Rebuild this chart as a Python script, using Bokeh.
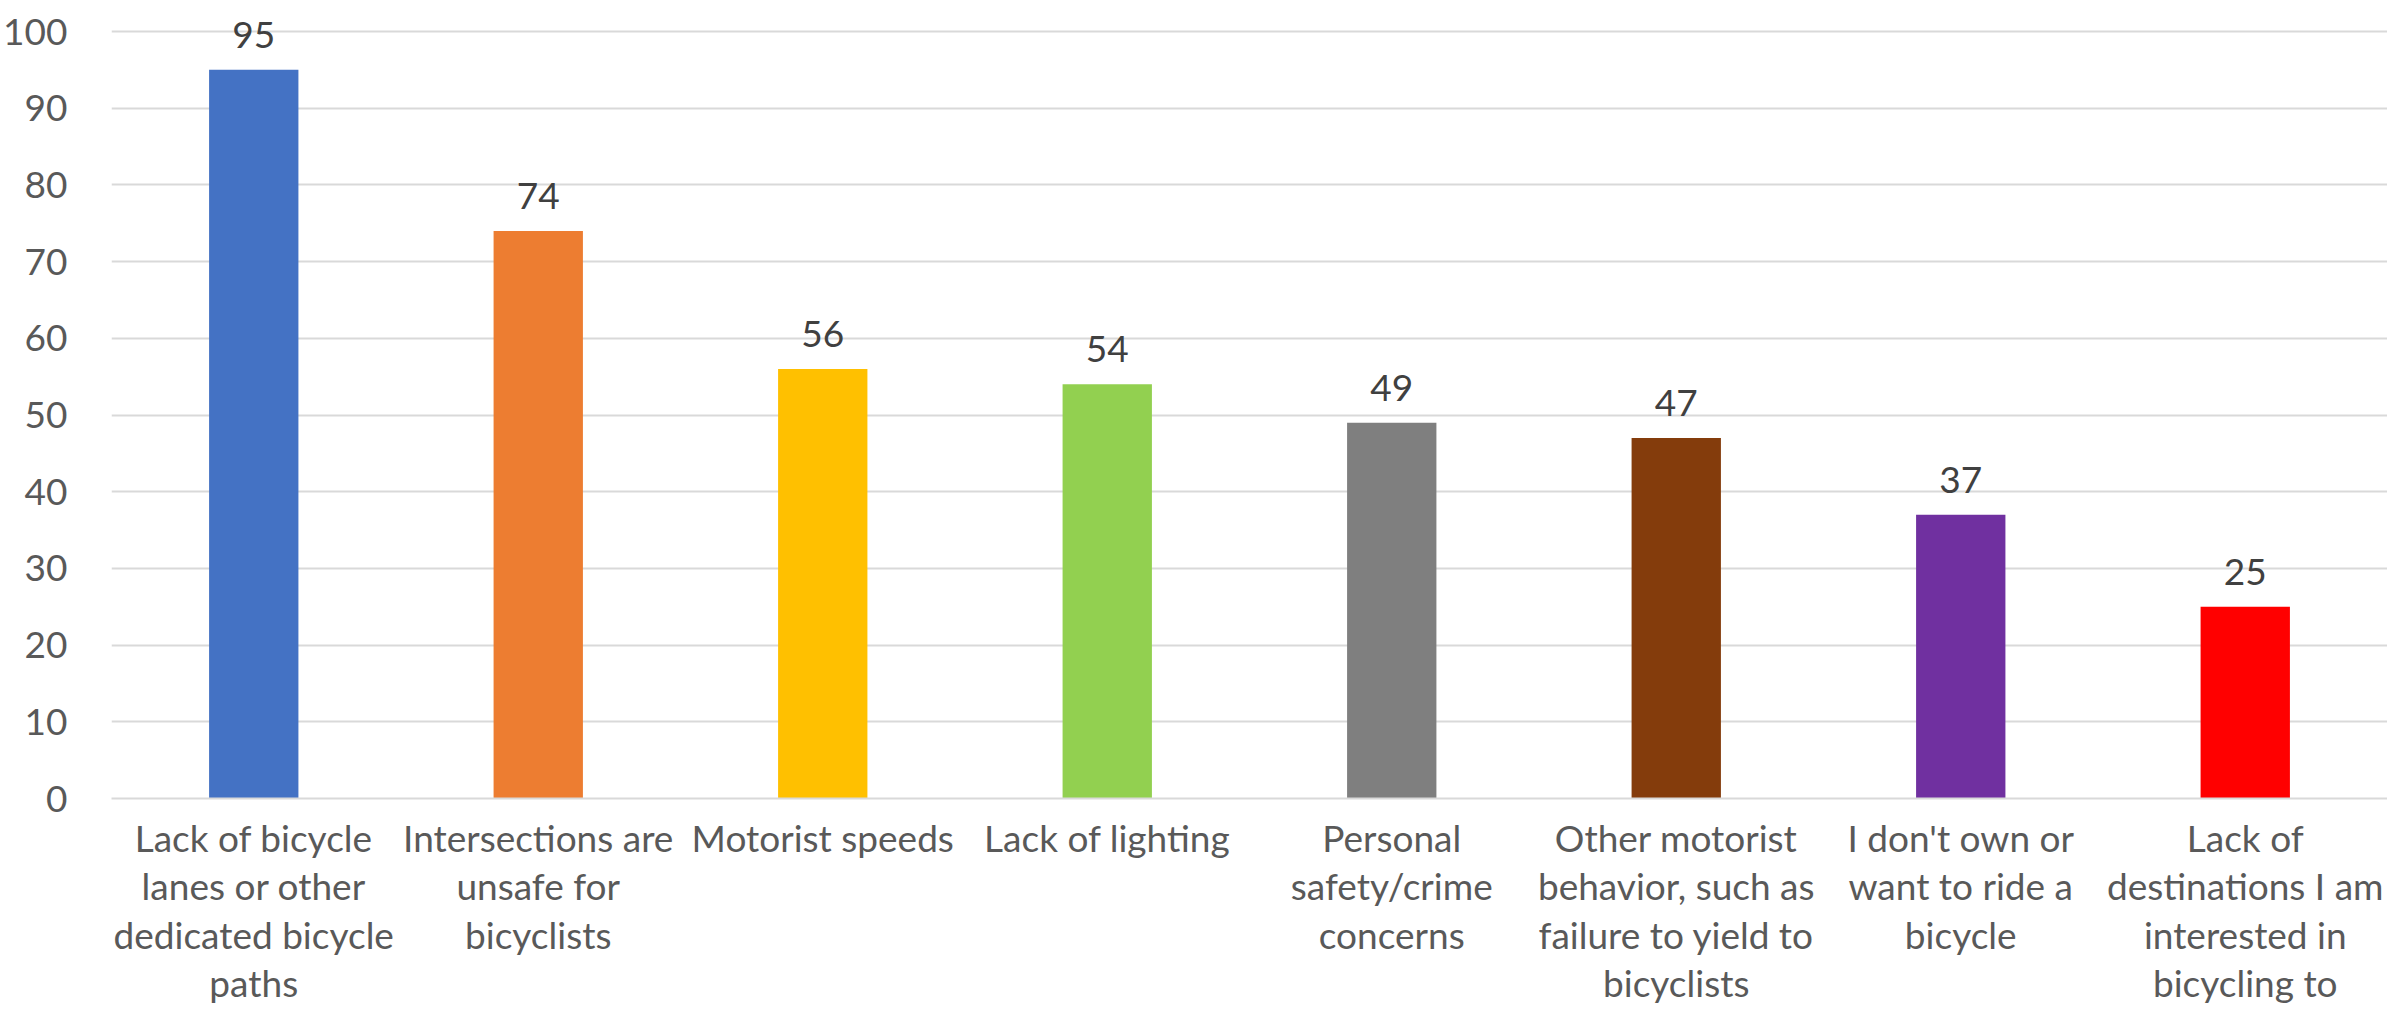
from bokeh.plotting import figure
from bokeh.models import ColumnDataSource, Range1d, FactorRange, LabelSet, SingleIntervalTicker
from bokeh.core.properties import value
from bokeh.embed import file_html
from bokeh.resources import INLINE

categories = [
    "Lack of bicycle\nlanes or other\ndedicated bicycle\npaths",
    "Intersections are\nunsafe for\nbicyclists",
    "Motorist speeds",
    "Lack of lighting",
    "Personal\nsafety/crime\nconcerns",
    "Other motorist\nbehavior, such as\nfailure to yield to\nbicyclists",
    "I don't own or\nwant to ride a\nbicycle",
    "Lack of\ndestinations I am\ninterested in\nbicycling to",
]
values = [95, 74, 56, 54, 49, 47, 37, 25]
colors = ["#4472C4", "#ED7D31", "#FFC000", "#92D050", "#7F7F7F", "#843C0C", "#7030A0", "#FF0000"]

FONT = "Lato"

src = ColumnDataSource(dict(x=categories, top=values, color=colors, label=[str(v) for v in values]))

p = figure(
    x_range=FactorRange(*categories, range_padding=0),
    y_range=Range1d(0, 103),
    width=2387, height=1008,
    output_backend="svg", toolbar_location=None,
    min_border_left=91, min_border_top=8, min_border_right=0, min_border_bottom=0,
)
p.outline_line_color = None
p.background_fill_color = "white"
p.border_fill_color = "white"

p.vbar(x="x", top="top", width=0.314, color="color", source=src, line_color=None)

labels = LabelSet(x="x", y="top", text="label", source=src, text_align="center",
                  text_baseline="alphabetic", y_offset=22, text_font=value(FONT),
                  text_font_size="37px", text_color="#404040")
p.add_layout(labels)

p.yaxis.ticker = SingleIntervalTicker(interval=10)
p.ygrid.grid_line_color = "#d9d9d9"
p.ygrid.grid_line_width = 2
p.xgrid.grid_line_color = None

p.yaxis.axis_line_color = None
p.yaxis.major_tick_line_color = None
p.yaxis.minor_tick_line_color = None
p.yaxis.major_label_standoff = 38
p.yaxis.major_label_text_font = FONT
p.yaxis.major_label_text_font_size = "37px"
p.yaxis.major_label_text_color = "#595959"

p.xaxis.axis_line_color = "#d9d9d9"
p.xaxis.axis_line_width = 2
p.xaxis.major_tick_line_color = None
p.xaxis.minor_tick_line_color = None
p.xaxis.major_label_standoff = 10
p.xaxis.major_label_text_font = FONT
p.xaxis.major_label_text_font_size = "37px"
p.xaxis.major_label_text_color = "#595959"
p.xaxis.major_label_text_line_height = 1.08
p.xaxis.major_label_text_align = "center"

open("out.html", "w").write(file_html(p, INLINE))
